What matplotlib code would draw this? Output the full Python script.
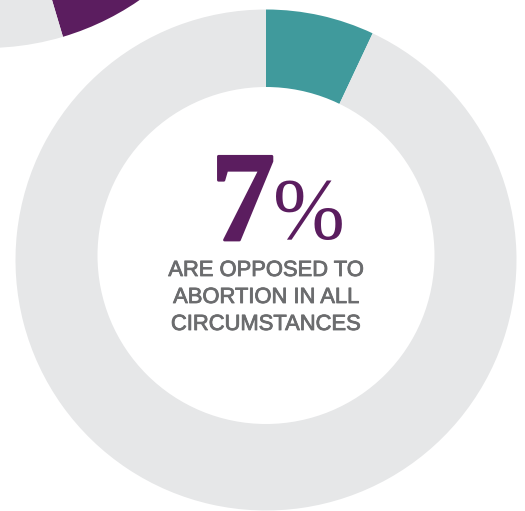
import matplotlib
matplotlib.use("Agg")
import matplotlib.pyplot as plt
import matplotlib.patheffects as pe
from matplotlib.patches import Circle

# data
main_labels = ["Opposed in all circumstances", "Other"]
main_values = [7, 93]
side_values = [45.4, 54.6]
big_number = "7"
pct_sign = "%"
caption_lines = ["ARE OPPOSED TO", "ABORTION IN ALL", "CIRCUMSTANCES"]

TEAL = "#409a9c"
GRAY = "#e6e7e8"
PURPLE = "#5b1d5f"
TEXT_GRAY = "#6b6c6e"

W, H = 525, 511
fig = plt.figure(figsize=(W / 100, H / 100), dpi=100)
ax = fig.add_axes([0, 0, 1, 1])

# partial donut (top-left, cut by frame)
ax.pie(side_values, colors=[PURPLE, GRAY], startangle=90, counterclock=False,
       center=(-14, H + 222), radius=270,
       wedgeprops=dict(width=85, linewidth=0))

# main donut
ax.pie(main_values, colors=[TEAL, GRAY], startangle=90, counterclock=False,
       center=(266, H - 260), radius=250.5,
       wedgeprops=dict(linewidth=0))
ax.add_patch(Circle((266, H - 255.5), 168.5, facecolor="white",
                    edgecolor="none", zorder=5))

ax.set_xlim(0, W)
ax.set_ylim(0, H)
ax.set_aspect("equal")
ax.axis("off")

ax.text(275, H - 240, big_number, ha="right", va="baseline", color=PURPLE,
        fontsize=92, family="Liberation Serif", fontweight="bold", zorder=10,
        path_effects=[pe.withStroke(linewidth=2, foreground=PURPLE)])
ax.text(273, H - 238, pct_sign, ha="left", va="baseline", color=PURPLE,
        fontsize=62, family="Liberation Serif", zorder=10)

for i, line in enumerate(caption_lines):
    ax.text(266, H - (276 + i * 27), line, ha="center", va="baseline",
            color=TEXT_GRAY, fontsize=15.8, family="Liberation Sans", zorder=10,
            path_effects=[pe.withStroke(linewidth=0.6, foreground=TEXT_GRAY)])

fig.savefig("out.png", dpi=100, facecolor="white")
